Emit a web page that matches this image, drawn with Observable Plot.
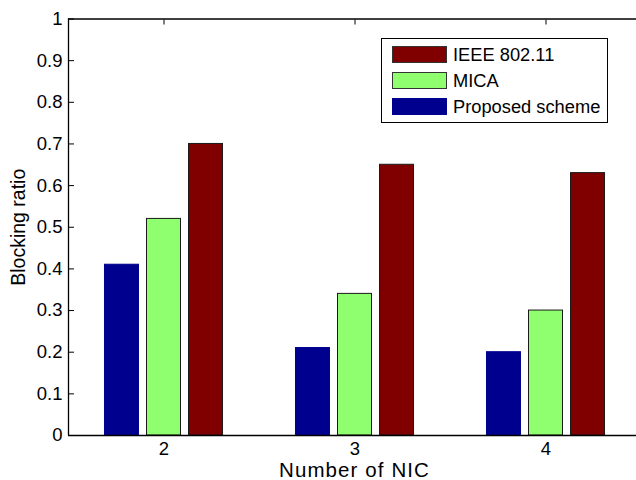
<!DOCTYPE html>
<html>
<head>
<meta charset="utf-8">
<script src="https://cdn.jsdelivr.net/npm/d3@7"></script>
<script src="https://cdn.jsdelivr.net/npm/@observablehq/plot@0.6"></script>
<style>
  html, body { margin: 0; padding: 0; background: #fff; }
  #wrap { position: relative; width: 636px; height: 480px; font-family: "Liberation Sans", Arial, Helvetica, sans-serif; }
  #legend { position: absolute; left: 381px; top: 38px; width: 225px; height: 83px; border: 1px solid #000; background: #fff; box-sizing: content-box; }
  .row { position: absolute; left: 10px; height: 19px; display: flex; align-items: center; font-size: 18.3px; color: #000; white-space: nowrap; }
  .sw { width: 55px; height: 17px; margin-right: 6px; box-sizing: border-box; }
  .xlabel text { letter-spacing: 1.1px; }
</style>
</head>
<body>
<div id="wrap"></div>
<script>
const nic = [2, 3, 4];
const seriesNames = ["Proposed scheme", "MICA", "IEEE 802.11"];
const seriesColors = ["#00008f", "#8fff70", "#800000"];
const seriesStroke = ["#00008f", "#1a1a1a", "#1a1a1a"];
const proposed = [0.41, 0.21, 0.20];
const mica = [0.52, 0.34, 0.30];
const ieee = [0.70, 0.65, 0.63];
const yTicks = [0, 0.1, 0.2, 0.3, 0.4, 0.5, 0.6, 0.7, 0.8, 0.9, 1];
const legendOrder = ["IEEE 802.11", "MICA", "Proposed scheme"];

const seriesValues = [proposed, mica, ieee];
const barHalf = 0.089;
const barStep = 0.22;
const rows = [];
seriesValues.forEach((vals, k) => {
  vals.forEach((v, i) => {
    rows.push({series: seriesNames[k], k, nic: nic[i], value: v,
      left: nic[i] + (k - 1) * barStep - barHalf,
      right: nic[i] + (k - 1) * barStep + barHalf});
  });
});

const chart = Plot.plot({
  width: 636,
  height: 480,
  marginLeft: 68,
  marginRight: 0,
  marginTop: 18.5,
  marginBottom: 45,
  x: {domain: [1.5, 4.5], range: [68, 641]},
  y: {domain: [0, 1]},
  color: {domain: seriesNames, range: seriesColors},
  style: {fontFamily: "'Liberation Sans', Arial, Helvetica, sans-serif", fontSize: "18.5px", color: "#000", background: "#fff"},
  marks: [
    Plot.axisY({ticks: yTicks, tickSize: -6, tickPadding: 12, tickFormat: d => String(d), label: null, stroke: "#000", fontSize: 18.5}),
    Plot.axisX({ticks: nic, tickSize: 0, tickPadding: 6, tickFormat: d => String(d), label: null, fontSize: 18.5}),
    Plot.axisX({anchor: "top", ticks: nic, tickSize: -5, tickFormat: () => "", label: null}),
    Plot.rect(rows, {x1: "left", x2: "right", y1: 0, y2: "value", fill: "series",
      stroke: d => seriesStroke[d.k], strokeWidth: 1}),
    Plot.ruleY([0], {stroke: "#000", strokeWidth: 1.3}),
    Plot.ruleY([1], {stroke: "#000", strokeWidth: 1.3}),
    Plot.ruleX([1.5], {stroke: "#000", strokeWidth: 1.3}),
    Plot.text(["Blocking ratio"], {frameAnchor: "left", textAnchor: "middle", rotate: -90, dx: -50, fontSize: 19.5, lineAnchor: "middle"}),
    Plot.text(["Number of NIC"], {frameAnchor: "bottom", textAnchor: "middle", dy: 35, dx: 2, fontSize: 20.5, lineAnchor: "middle", className: "xlabel"})
  ]
});

const wrap = document.getElementById("wrap");
wrap.appendChild(chart);

const legend = document.createElement("div");
legend.id = "legend";
legendOrder.forEach((name, i) => {
  const k = seriesNames.indexOf(name);
  const row = document.createElement("div");
  row.className = "row";
  row.style.top = (6 + i * 26) + "px";
  const sw = document.createElement("div");
  sw.className = "sw";
  sw.style.background = seriesColors[k];
  sw.style.border = k === 0 ? "none" : "1px solid #333";
  const label = document.createElement("span");
  label.textContent = name;
  row.appendChild(sw);
  row.appendChild(label);
  legend.appendChild(row);
});
wrap.appendChild(legend);
</script>
</body>
</html>
